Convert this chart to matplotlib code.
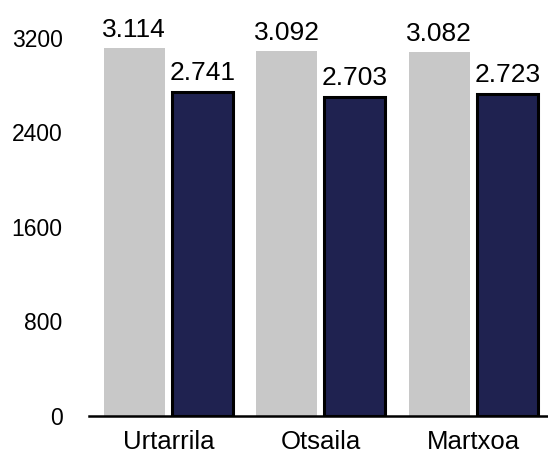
import numpy as np
import matplotlib
matplotlib.use("Agg")
import matplotlib.pyplot as plt

plt.rcParams['font.family'] = ['Liberation Sans', 'DejaVu Sans']

months = ["Urtarrila", "Otsaila", "Martxoa"]
series_a = [3114, 3092, 3082]
series_b = [2741, 2703, 2723]
labels_a = ["3.114", "3.092", "3.082"]
labels_b = ["2.741", "2.703", "2.723"]
yticks = [0, 800, 1600, 2400, 3200]

fig = plt.figure(figsize=(5.48, 4.54), dpi=100)
ax = fig.add_axes([89 / 548, 38 / 454, 1 - 89 / 548, 416 / 454])

x = np.arange(len(months))
w = 0.40
off = 0.223
bars_a = ax.bar(x - off, series_a, w, color="#c8c8c8", edgecolor="none", zorder=2)
bars_b = ax.bar(x + off, series_b, w, color="#1f2250", edgecolor="black", linewidth=2.2, zorder=2)

for b, t in zip(bars_a, labels_a):
    ax.annotate(t, (b.get_x() + b.get_width() / 2, b.get_height()), xytext=(0, 4),
                textcoords="offset points", ha="center", va="bottom", fontsize=19)
for b, t in zip(bars_b, labels_b):
    ax.annotate(t, (b.get_x() + b.get_width() / 2, b.get_height()), xytext=(0, 5),
                textcoords="offset points", ha="center", va="bottom", fontsize=19)

ax.set_xlim(-0.52, 2.49)
ax.set_ylim(0, 3520)
ax.set_xticks(x)
ax.set_xticklabels(months, fontsize=18.5)
ax.set_yticks(yticks)
ax.set_yticklabels([str(v) for v in yticks], fontsize=16.5)
ax.tick_params(axis="y", length=0, pad=19)
ax.tick_params(axis="x", length=0, pad=10)

for s in ["top", "right", "left"]:
    ax.spines[s].set_visible(False)
ax.spines["bottom"].set_linewidth(1.8)
ax.spines["bottom"].set_color("black")
ax.spines["bottom"].set_zorder(3)

fig.savefig("out.png", dpi=100)
